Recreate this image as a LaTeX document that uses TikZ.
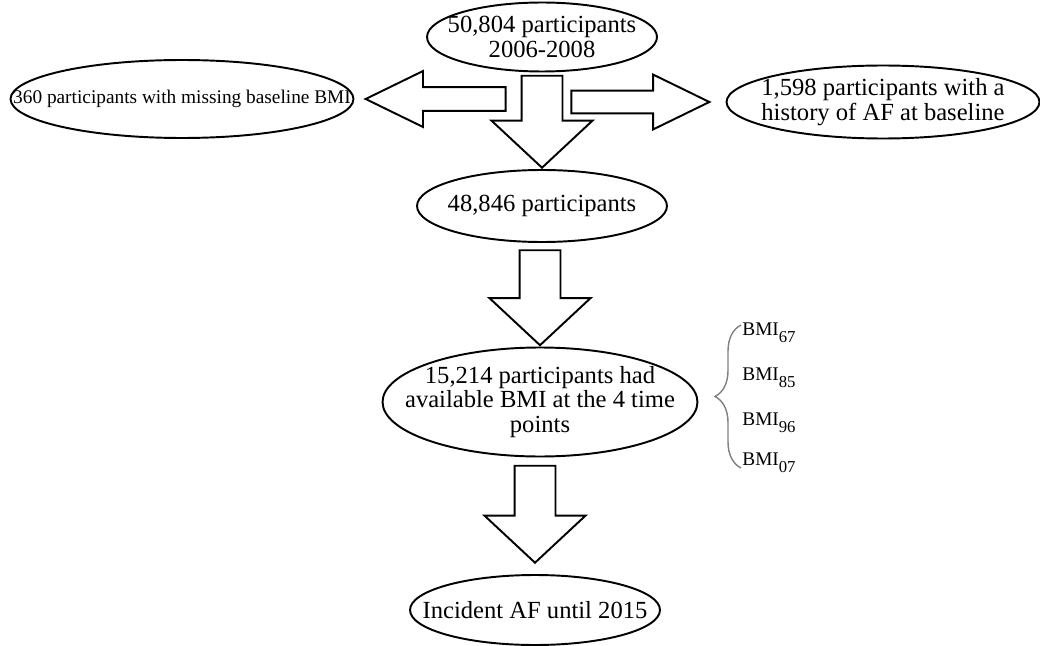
\documentclass[tikz,border=0pt]{standalone}
\usepackage{fontspec}
\setmainfont{Liberation Serif}
\usetikzlibrary{shapes.geometric,shapes.arrows,calc,decorations.pathreplacing,positioning}

\newcommand\bmisub[1]{BMI\raisebox{-4pt}{\fontsize{9.5}{9.5}\selectfont #1}}

\tikzset{
  stage/.style={draw, ellipse, inner sep=0pt, line width=1.1pt},
  txt/.style={align=center, inner sep=0pt, font=\fontsize{14}{14}\selectfont},
  sidearrow/.style={draw, single arrow, line width=1.1pt, anchor=tip, minimum height=28mm,
    inner sep=2.2mm, single arrow head extend=3.2mm, single arrow tip angle=52},
  downarrow/.style={draw, single arrow, line width=1.1pt, rotate=-90, anchor=tip, minimum height=19mm,
    inner sep=3.9mm, single arrow head extend=6mm, single arrow tip angle=94},
  bmi/.style={anchor=west, inner sep=0pt, font=\fontsize{11}{11}\selectfont}
}

\begin{document}
\begin{tikzpicture}[x=0.02cm, y=-0.02cm]
  \useasboundingbox (0,0) rectangle (1040,645);

  % ellipses
  \node[stage, minimum width=46mm, minimum height=13.8mm,
    label={[txt]center:{50,804 participants\\2006-2008}}] (start) at (542,37) {};
  \node[stage, minimum width=68.6mm, minimum height=15.6mm,
    label={[txt, font=\fontsize{11}{11}\selectfont]center:{360 participants with missing baseline BMI}}] (miss) at (182,99) {};
  \node[stage, minimum width=62.6mm, minimum height=14.6mm,
    label={[txt]center:{1,598 participants with a\\history of AF at baseline}}] (hist) at (883,102) {};
  \node[stage, minimum width=50mm, minimum height=14.4mm,
    label={[txt]center:{48,846 participants}}] (left) at (542,206) {};
  \node[stage, minimum width=63mm, minimum height=21.8mm,
    label={[txt]center:{15,214 participants had\\available BMI at the 4 time\\points}}] (avail) at (540,402) {};
  \node[stage, minimum width=50mm, minimum height=14mm,
    label={[txt]center:{Incident AF until 2015}}] (incid) at (535,610) {};

  % block arrows
  \node[sidearrow, shape border rotate=180] (toMiss) at ([xshift=1.8mm]miss.east) {};
  \node[sidearrow, minimum height=27.6mm, inner sep=2.1mm] (toHist) at ([xshift=-2.8mm]hist.west) {};
  \node[downarrow, minimum height=18.4mm] (d1) at (left.north) {};
  \node[downarrow] (d2) at (avail.north) {};
  \node[downarrow, minimum height=19.4mm] (d3) at ([yshift=2mm]incid.north) {};

  % time points
  \node[bmi] (b67) at (742,333) {\bmisub{67}};
  \node[bmi] (b85) at (742,378) {\bmisub{85}};
  \node[bmi] (b96) at (742,423) {\bmisub{96}};
  \node[bmi] (b07) at (742,463) {\bmisub{07}};
  \coordinate (brTop) at (741,325);
  \coordinate (brBot) at (741,468);
  \draw[decorate, decoration={brace, amplitude=5.2mm}, gray, line width=0.8pt] (brBot) -- (brTop);

\end{tikzpicture}
\end{document}
